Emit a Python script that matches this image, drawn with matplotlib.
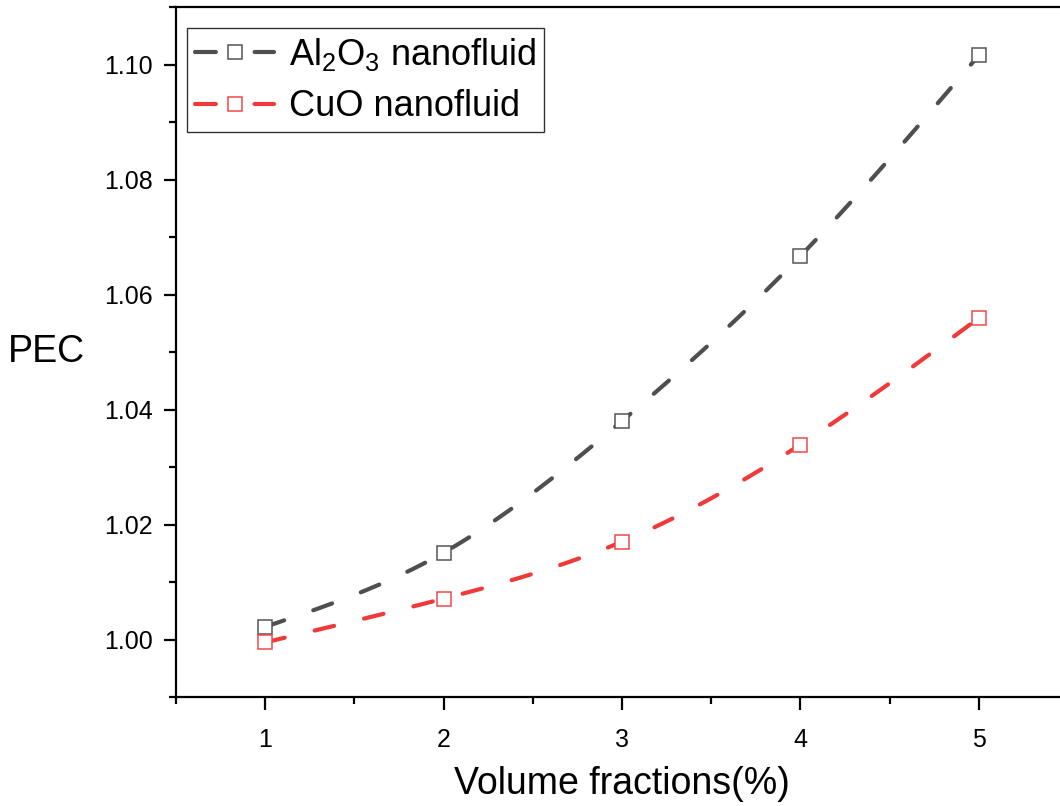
import numpy as np
import matplotlib
matplotlib.use("Agg")
import matplotlib.pyplot as plt
from matplotlib.ticker import MultipleLocator, FormatStrFormatter
from matplotlib.lines import Line2D

plt.rcParams['font.family'] = ['Liberation Sans', 'DejaVu Sans']
plt.rcParams['mathtext.fontset'] = 'custom'
plt.rcParams['mathtext.rm'] = 'Liberation Sans'
plt.rcParams['mathtext.it'] = 'Liberation Sans'

volume_fractions = [1, 2, 3, 4, 5]
pec_al2o3 = [1.0022, 1.0151, 1.0380, 1.0667, 1.1016]
pec_cuo = [0.9995, 1.0071, 1.0170, 1.0339, 1.0559]
series_labels = [r"Al$_2$O$_3$ nanofluid", "CuO nanofluid"]
series_colors = ["#4f4f4f", "#f03a3a"]
marker_edges = ["#555555", "#f04848"]


def natural_spline(x, y, n=200):
    x = np.asarray(x, float)
    y = np.asarray(y, float)
    k = len(x)
    h = np.diff(x)
    A = np.zeros((k, k))
    b = np.zeros(k)
    A[0, 0] = 1
    A[-1, -1] = 1
    for i in range(1, k - 1):
        A[i, i - 1] = h[i - 1]
        A[i, i] = 2 * (h[i - 1] + h[i])
        A[i, i + 1] = h[i]
        b[i] = 6 * ((y[i + 1] - y[i]) / h[i] - (y[i] - y[i - 1]) / h[i - 1])
    M = np.linalg.solve(A, b)
    xs = np.linspace(x[0], x[-1], n)
    ys = np.empty_like(xs)
    for j, xv in enumerate(xs):
        i = min(np.searchsorted(x, xv, side='right') - 1, k - 2)
        t0 = x[i + 1] - xv
        t1 = xv - x[i]
        ys[j] = (M[i] * t0 ** 3 / (6 * h[i]) + M[i + 1] * t1 ** 3 / (6 * h[i])
                 + (y[i] / h[i] - M[i] * h[i] / 6) * t0
                 + (y[i + 1] / h[i] - M[i + 1] * h[i] / 6) * t1)
    return xs, ys


fig = plt.figure(figsize=(10.6, 8.06), dpi=100)
ax = fig.add_axes([176 / 1060, 109 / 806, 892 / 1060, 690 / 806])

LW = 3.0
dash = (0, (4.8, 7.4))
handles = []
for vals, lab, col, mec in zip([pec_al2o3, pec_cuo], series_labels, series_colors, marker_edges):
    xs, ys = natural_spline(volume_fractions, vals)
    ax.plot(xs, ys, color=col, lw=LW, linestyle=dash, zorder=2, dash_capstyle='round')
    ax.plot(volume_fractions, vals, linestyle='none', marker='s', markersize=10,
            markerfacecolor='white', markeredgecolor=mec, markeredgewidth=1.1, zorder=3)
    handles.append(Line2D([], [], color=col, lw=LW, linestyle=(0, (5.0, 9.3)),
                          dash_capstyle='round',
                          marker='s', markersize=10, markerfacecolor='white',
                          markeredgecolor=mec, markeredgewidth=1.1, label=lab))

ax.set_xlim(0.5, 5.5)
ax.set_ylim(0.99, 1.11)
ax.xaxis.set_major_locator(MultipleLocator(1))
ax.xaxis.set_minor_locator(MultipleLocator(0.5))
ax.yaxis.set_major_locator(MultipleLocator(0.02))
ax.yaxis.set_minor_locator(MultipleLocator(0.01))
ax.yaxis.set_major_formatter(FormatStrFormatter('%.2f'))

for s in ax.spines.values():
    s.set_linewidth(1.6)
ax.spines['right'].set_visible(False)

ax.tick_params(which='major', direction='out', length=9, width=1.6, labelsize=18, pad=8)
ax.tick_params(axis='x', which='major', pad=13)
ax.tick_params(which='minor', direction='out', length=5, width=1.6)
ax.tick_params(top=False, right=False, which='both')

ax.set_xlabel("Volume fractions(%)", fontsize=27)
ax.xaxis.set_label_coords(0.5, -0.1)
ax.set_ylabel("PEC", fontsize=27, rotation=0, ha='center', va='center')
ax.yaxis.set_label_coords(-0.145, 0.5)

leg = ax.legend(handles=handles, loc='upper left', bbox_to_anchor=(0.0123, 0.9696),
                borderaxespad=0, fontsize=26, frameon=True, fancybox=False,
                edgecolor='black', handlelength=2.2, handletextpad=0.4,
                labelspacing=0.45, borderpad=0.22)
leg.get_frame().set_linewidth(1.0)

fig.savefig("out.png", dpi=100)
